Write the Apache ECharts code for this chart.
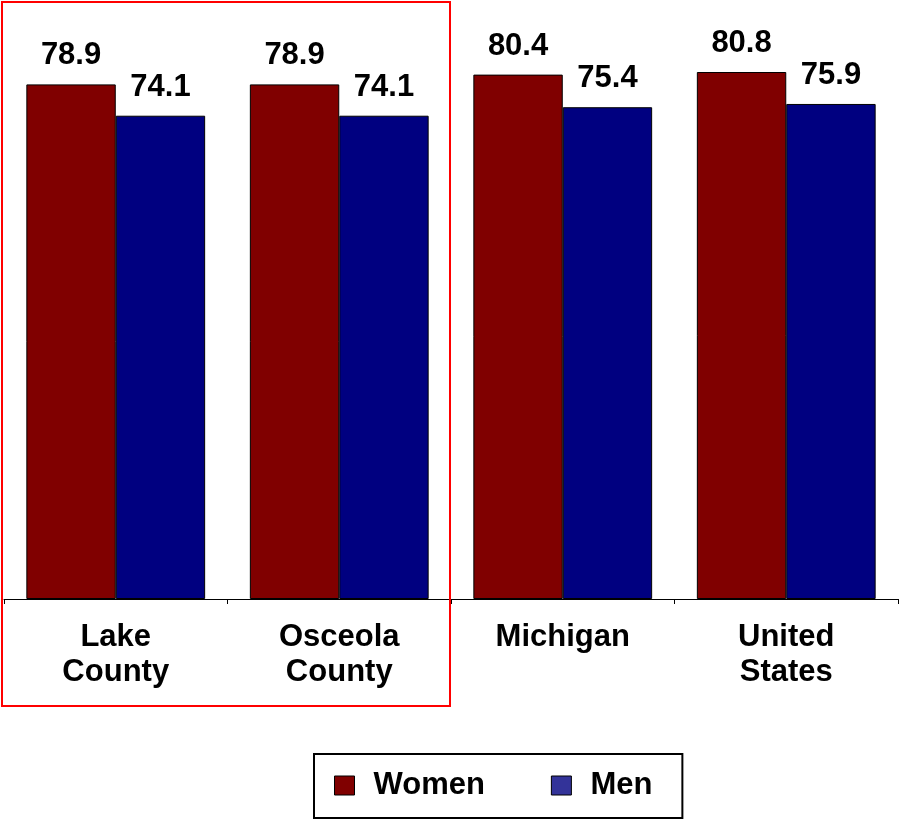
<!DOCTYPE html>
<html>
<head>
<meta charset="utf-8">
<script src="https://cdn.jsdelivr.net/npm/echarts@6/dist/echarts.min.js"></script>
<style>
html,body{margin:0;padding:0;background:#fff;}
#c{width:899px;height:820px;}
</style>
</head>
<body>
<div id="c"></div>
<script>
const categories = ['Lake\nCounty', 'Osceola\nCounty', 'Michigan', 'United\nStates'];
const women = [78.9, 78.9, 80.4, 80.8];
const men = [74.1, 74.1, 75.4, 75.9];
const seriesNames = ['Women', 'Men'];

const FONT = '"Liberation Sans", Arial, sans-serif';
const chart = echarts.init(document.getElementById('c'), null, {renderer: 'canvas'});

const labelCfg = {
  show: true, position: 'top', distance: 13,
  color: '#000', fontFamily: FONT, fontWeight: 'bold', fontSize: 31,
  formatter: p => p.value.toFixed(1)
};

chart.setOption({
  animation: false,
  backgroundColor: '#fff',
  grid: {left: 4, right: 1, top: 12, height: 587, containLabel: false},
  xAxis: {
    type: 'category',
    data: categories,
    axisLine: {lineStyle: {color: '#000', width: 1}},
    axisTick: {show: true, length: 5, lineStyle: {color: '#000'}},
    axisLabel: {
      color: '#000', fontFamily: FONT, fontWeight: 'bold', fontSize: 31,
      lineHeight: 35, margin: 21, interval: 0
    }
  },
  yAxis: {
    type: 'value', min: 0, max: 90, show: false,
    splitLine: {show: false}
  },
  legend: {
    left: 314, top: 754,
    orient: 'horizontal',
    borderColor: '#000', borderWidth: 2,
    padding: [16, 30, 17, 20],
    itemWidth: 20, itemHeight: 19, itemGap: 66,
    icon: 'rect',
    textStyle: {color: '#000', fontFamily: FONT, fontWeight: 'bold', fontSize: 31, padding: [0, 0, 0, 14]},
    data: [
      {name: seriesNames[0], itemStyle: {color: '#800000', borderColor: '#000', borderWidth: 1}},
      {name: seriesNames[1], itemStyle: {color: '#333399', borderColor: '#000', borderWidth: 1}}
    ]
  },
  series: [
    {
      name: seriesNames[0], type: 'bar', data: women,
      barGap: '0%', barCategoryGap: '20%',
      itemStyle: {color: '#800000', borderColor: '#000', borderWidth: 1},
      label: labelCfg
    },
    {
      name: seriesNames[1], type: 'bar', data: men,
      barGap: '0%', barCategoryGap: '20%',
      itemStyle: {color: '#000080', borderColor: '#000', borderWidth: 1},
      label: labelCfg
    }
  ],
  graphic: [
    {
      type: 'rect', z: 100, silent: true,
      shape: {x: 2, y: 2, width: 448, height: 704},
      style: {fill: 'none', stroke: '#ff0000', lineWidth: 2}
    }
  ]
});
</script>
</body>
</html>
